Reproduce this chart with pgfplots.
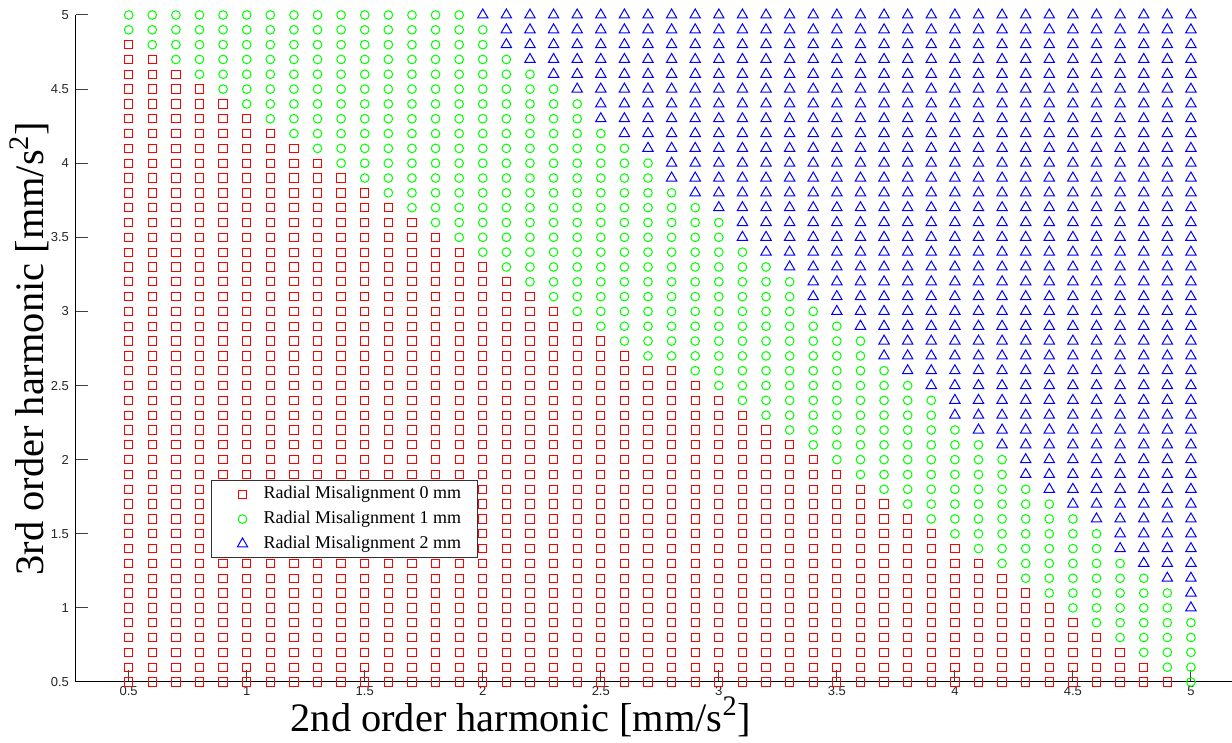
\documentclass[border=0pt]{standalone}
\usepackage{fontspec}
\setmainfont{Liberation Serif}
\newfontfamily\arialfont{Liberation Sans}
\usepackage{pgfplots}
\pgfplotsset{compat=1.18}
\begin{document}
\begin{tikzpicture}
\path[use as bounding box] (-38pt,-30.5pt) rectangle (578pt,341pt);
\begin{axis}[
  at={(0,0)}, anchor=south west,
  scale only axis, width=578pt, height=333.5pt,
  xmin=0.2768, xmax=5.174, ymin=0.5, ymax=5,
  axis x line*=bottom, axis y line*=left,
  axis line style={line width=0.5pt, black, -},
  xtick={0.5,1,1.5,2,2.5,3,3.5,4,4.5,5},
  ytick={0.5,1,1.5,2,2.5,3,3.5,4,4.5,5},
  tick align=inside, major tick length=6pt,
  tick style={line width=0.5pt, black!75},
  /pgf/number format/assume math mode=true,
  ticklabel style={font=\arialfont\fontsize{6.5}{7}\selectfont, text=black!85},
  xticklabel style={inner ysep=2pt},
  clip=false,
  every axis x label/.style={at={(axis description cs:0.3849,-0.0735)}, anchor=base, font=\fontsize{20.2}{22}\selectfont},
  every axis y label/.style={at={(axis description cs:-0.0277,0.5)}, anchor=base, rotate=90, font=\fontsize{20.2}{22}\selectfont},
  xlabel={2nd order harmonic [mm/s\textsuperscript{2}]},
  ylabel={3rd order harmonic [mm/s\textsuperscript{2}]},
  legend style={at={(axis description cs:0.1168,0.186)}, anchor=south west,
    draw=black!80, line width=0.5pt, fill=white,
    font=\fontsize{9}{11}\selectfont,
    inner xsep=6pt, inner ysep=0.5pt,
    nodes={inner ysep=2.35pt, inner xsep=2pt}},
  legend cell align=left,
  legend image code/.code={\path[draw=none,fill=none] (0pt,0pt) (18pt,0pt); \draw[#1] plot coordinates {(9.5pt,0pt)};},
]
\addplot[only marks, mark=square, mark size=2.07pt, color=red, line width=0.5pt] coordinates {
(0.5,4.8)
(0.5,4.7)(0.6,4.7)
(0.5,4.6)(0.6,4.6)(0.7,4.6)
(0.5,4.5)(0.6,4.5)(0.7,4.5)(0.8,4.5)
(0.5,4.4)(0.6,4.4)(0.7,4.4)(0.8,4.4)(0.9,4.4)
(0.5,4.3)(0.6,4.3)(0.7,4.3)(0.8,4.3)(0.9,4.3)(1,4.3)
(0.5,4.2)(0.6,4.2)(0.7,4.2)(0.8,4.2)(0.9,4.2)(1,4.2)(1.1,4.2)
(0.5,4.1)(0.6,4.1)(0.7,4.1)(0.8,4.1)(0.9,4.1)(1,4.1)(1.1,4.1)(1.2,4.1)
(0.5,4)(0.6,4)(0.7,4)(0.8,4)(0.9,4)(1,4)(1.1,4)(1.2,4)(1.3,4)
(0.5,3.9)(0.6,3.9)(0.7,3.9)(0.8,3.9)(0.9,3.9)(1,3.9)(1.1,3.9)(1.2,3.9)(1.3,3.9)(1.4,3.9)
(0.5,3.8)(0.6,3.8)(0.7,3.8)(0.8,3.8)(0.9,3.8)(1,3.8)(1.1,3.8)(1.2,3.8)(1.3,3.8)(1.4,3.8)(1.5,3.8)
(0.5,3.7)(0.6,3.7)(0.7,3.7)(0.8,3.7)(0.9,3.7)(1,3.7)(1.1,3.7)(1.2,3.7)(1.3,3.7)(1.4,3.7)(1.5,3.7)(1.6,3.7)
(0.5,3.6)(0.6,3.6)(0.7,3.6)(0.8,3.6)(0.9,3.6)(1,3.6)(1.1,3.6)(1.2,3.6)(1.3,3.6)(1.4,3.6)(1.5,3.6)(1.6,3.6)(1.7,3.6)
(0.5,3.5)(0.6,3.5)(0.7,3.5)(0.8,3.5)(0.9,3.5)(1,3.5)(1.1,3.5)(1.2,3.5)(1.3,3.5)(1.4,3.5)(1.5,3.5)(1.6,3.5)(1.7,3.5)(1.8,3.5)
(0.5,3.4)(0.6,3.4)(0.7,3.4)(0.8,3.4)(0.9,3.4)(1,3.4)(1.1,3.4)(1.2,3.4)(1.3,3.4)(1.4,3.4)(1.5,3.4)(1.6,3.4)(1.7,3.4)(1.8,3.4)(1.9,3.4)
(0.5,3.3)(0.6,3.3)(0.7,3.3)(0.8,3.3)(0.9,3.3)(1,3.3)(1.1,3.3)(1.2,3.3)(1.3,3.3)(1.4,3.3)(1.5,3.3)(1.6,3.3)(1.7,3.3)(1.8,3.3)(1.9,3.3)(2,3.3)
(0.5,3.2)(0.6,3.2)(0.7,3.2)(0.8,3.2)(0.9,3.2)(1,3.2)(1.1,3.2)(1.2,3.2)(1.3,3.2)(1.4,3.2)(1.5,3.2)(1.6,3.2)(1.7,3.2)(1.8,3.2)(1.9,3.2)(2,3.2)(2.1,3.2)
(0.5,3.1)(0.6,3.1)(0.7,3.1)(0.8,3.1)(0.9,3.1)(1,3.1)(1.1,3.1)(1.2,3.1)(1.3,3.1)(1.4,3.1)(1.5,3.1)(1.6,3.1)(1.7,3.1)(1.8,3.1)(1.9,3.1)(2,3.1)(2.1,3.1)(2.2,3.1)
(0.5,3)(0.6,3)(0.7,3)(0.8,3)(0.9,3)(1,3)(1.1,3)(1.2,3)(1.3,3)(1.4,3)(1.5,3)(1.6,3)(1.7,3)(1.8,3)(1.9,3)(2,3)(2.1,3)(2.2,3)(2.3,3)
(0.5,2.9)(0.6,2.9)(0.7,2.9)(0.8,2.9)(0.9,2.9)(1,2.9)(1.1,2.9)(1.2,2.9)(1.3,2.9)(1.4,2.9)(1.5,2.9)(1.6,2.9)(1.7,2.9)(1.8,2.9)(1.9,2.9)(2,2.9)(2.1,2.9)(2.2,2.9)(2.3,2.9)(2.4,2.9)
(0.5,2.8)(0.6,2.8)(0.7,2.8)(0.8,2.8)(0.9,2.8)(1,2.8)(1.1,2.8)(1.2,2.8)(1.3,2.8)(1.4,2.8)(1.5,2.8)(1.6,2.8)(1.7,2.8)(1.8,2.8)(1.9,2.8)(2,2.8)(2.1,2.8)(2.2,2.8)(2.3,2.8)(2.4,2.8)(2.5,2.8)
(0.5,2.7)(0.6,2.7)(0.7,2.7)(0.8,2.7)(0.9,2.7)(1,2.7)(1.1,2.7)(1.2,2.7)(1.3,2.7)(1.4,2.7)(1.5,2.7)(1.6,2.7)(1.7,2.7)(1.8,2.7)(1.9,2.7)(2,2.7)(2.1,2.7)(2.2,2.7)(2.3,2.7)(2.4,2.7)(2.5,2.7)(2.6,2.7)
(0.5,2.6)(0.6,2.6)(0.7,2.6)(0.8,2.6)(0.9,2.6)(1,2.6)(1.1,2.6)(1.2,2.6)(1.3,2.6)(1.4,2.6)(1.5,2.6)(1.6,2.6)(1.7,2.6)(1.8,2.6)(1.9,2.6)(2,2.6)(2.1,2.6)(2.2,2.6)(2.3,2.6)(2.4,2.6)(2.5,2.6)(2.6,2.6)(2.7,2.6)(2.8,2.6)
(0.5,2.5)(0.6,2.5)(0.7,2.5)(0.8,2.5)(0.9,2.5)(1,2.5)(1.1,2.5)(1.2,2.5)(1.3,2.5)(1.4,2.5)(1.5,2.5)(1.6,2.5)(1.7,2.5)(1.8,2.5)(1.9,2.5)(2,2.5)(2.1,2.5)(2.2,2.5)(2.3,2.5)(2.4,2.5)(2.5,2.5)(2.6,2.5)(2.7,2.5)(2.8,2.5)(2.9,2.5)
(0.5,2.4)(0.6,2.4)(0.7,2.4)(0.8,2.4)(0.9,2.4)(1,2.4)(1.1,2.4)(1.2,2.4)(1.3,2.4)(1.4,2.4)(1.5,2.4)(1.6,2.4)(1.7,2.4)(1.8,2.4)(1.9,2.4)(2,2.4)(2.1,2.4)(2.2,2.4)(2.3,2.4)(2.4,2.4)(2.5,2.4)(2.6,2.4)(2.7,2.4)(2.8,2.4)(2.9,2.4)(3,2.4)
(0.5,2.3)(0.6,2.3)(0.7,2.3)(0.8,2.3)(0.9,2.3)(1,2.3)(1.1,2.3)(1.2,2.3)(1.3,2.3)(1.4,2.3)(1.5,2.3)(1.6,2.3)(1.7,2.3)(1.8,2.3)(1.9,2.3)(2,2.3)(2.1,2.3)(2.2,2.3)(2.3,2.3)(2.4,2.3)(2.5,2.3)(2.6,2.3)(2.7,2.3)(2.8,2.3)(2.9,2.3)(3,2.3)(3.1,2.3)
(0.5,2.2)(0.6,2.2)(0.7,2.2)(0.8,2.2)(0.9,2.2)(1,2.2)(1.1,2.2)(1.2,2.2)(1.3,2.2)(1.4,2.2)(1.5,2.2)(1.6,2.2)(1.7,2.2)(1.8,2.2)(1.9,2.2)(2,2.2)(2.1,2.2)(2.2,2.2)(2.3,2.2)(2.4,2.2)(2.5,2.2)(2.6,2.2)(2.7,2.2)(2.8,2.2)(2.9,2.2)(3,2.2)(3.1,2.2)(3.2,2.2)
(0.5,2.1)(0.6,2.1)(0.7,2.1)(0.8,2.1)(0.9,2.1)(1,2.1)(1.1,2.1)(1.2,2.1)(1.3,2.1)(1.4,2.1)(1.5,2.1)(1.6,2.1)(1.7,2.1)(1.8,2.1)(1.9,2.1)(2,2.1)(2.1,2.1)(2.2,2.1)(2.3,2.1)(2.4,2.1)(2.5,2.1)(2.6,2.1)(2.7,2.1)(2.8,2.1)(2.9,2.1)(3,2.1)(3.1,2.1)(3.2,2.1)(3.3,2.1)
(0.5,2)(0.6,2)(0.7,2)(0.8,2)(0.9,2)(1,2)(1.1,2)(1.2,2)(1.3,2)(1.4,2)(1.5,2)(1.6,2)(1.7,2)(1.8,2)(1.9,2)(2,2)(2.1,2)(2.2,2)(2.3,2)(2.4,2)(2.5,2)(2.6,2)(2.7,2)(2.8,2)(2.9,2)(3,2)(3.1,2)(3.2,2)(3.3,2)(3.4,2)
(0.5,1.9)(0.6,1.9)(0.7,1.9)(0.8,1.9)(0.9,1.9)(1,1.9)(1.1,1.9)(1.2,1.9)(1.3,1.9)(1.4,1.9)(1.5,1.9)(1.6,1.9)(1.7,1.9)(1.8,1.9)(1.9,1.9)(2,1.9)(2.1,1.9)(2.2,1.9)(2.3,1.9)(2.4,1.9)(2.5,1.9)(2.6,1.9)(2.7,1.9)(2.8,1.9)(2.9,1.9)(3,1.9)(3.1,1.9)(3.2,1.9)(3.3,1.9)(3.4,1.9)(3.5,1.9)
(0.5,1.8)(0.6,1.8)(0.7,1.8)(0.8,1.8)(0.9,1.8)(1,1.8)(1.1,1.8)(1.2,1.8)(1.3,1.8)(1.4,1.8)(1.5,1.8)(1.6,1.8)(1.7,1.8)(1.8,1.8)(1.9,1.8)(2,1.8)(2.1,1.8)(2.2,1.8)(2.3,1.8)(2.4,1.8)(2.5,1.8)(2.6,1.8)(2.7,1.8)(2.8,1.8)(2.9,1.8)(3,1.8)(3.1,1.8)(3.2,1.8)(3.3,1.8)(3.4,1.8)(3.5,1.8)(3.6,1.8)
(0.5,1.7)(0.6,1.7)(0.7,1.7)(0.8,1.7)(0.9,1.7)(1,1.7)(1.1,1.7)(1.2,1.7)(1.3,1.7)(1.4,1.7)(1.5,1.7)(1.6,1.7)(1.7,1.7)(1.8,1.7)(1.9,1.7)(2,1.7)(2.1,1.7)(2.2,1.7)(2.3,1.7)(2.4,1.7)(2.5,1.7)(2.6,1.7)(2.7,1.7)(2.8,1.7)(2.9,1.7)(3,1.7)(3.1,1.7)(3.2,1.7)(3.3,1.7)(3.4,1.7)(3.5,1.7)(3.6,1.7)(3.7,1.7)
(0.5,1.6)(0.6,1.6)(0.7,1.6)(0.8,1.6)(0.9,1.6)(1,1.6)(1.1,1.6)(1.2,1.6)(1.3,1.6)(1.4,1.6)(1.5,1.6)(1.6,1.6)(1.7,1.6)(1.8,1.6)(1.9,1.6)(2,1.6)(2.1,1.6)(2.2,1.6)(2.3,1.6)(2.4,1.6)(2.5,1.6)(2.6,1.6)(2.7,1.6)(2.8,1.6)(2.9,1.6)(3,1.6)(3.1,1.6)(3.2,1.6)(3.3,1.6)(3.4,1.6)(3.5,1.6)(3.6,1.6)(3.7,1.6)(3.8,1.6)
(0.5,1.5)(0.6,1.5)(0.7,1.5)(0.8,1.5)(0.9,1.5)(1,1.5)(1.1,1.5)(1.2,1.5)(1.3,1.5)(1.4,1.5)(1.5,1.5)(1.6,1.5)(1.7,1.5)(1.8,1.5)(1.9,1.5)(2,1.5)(2.1,1.5)(2.2,1.5)(2.3,1.5)(2.4,1.5)(2.5,1.5)(2.6,1.5)(2.7,1.5)(2.8,1.5)(2.9,1.5)(3,1.5)(3.1,1.5)(3.2,1.5)(3.3,1.5)(3.4,1.5)(3.5,1.5)(3.6,1.5)(3.7,1.5)(3.8,1.5)(3.9,1.5)
(0.5,1.4)(0.6,1.4)(0.7,1.4)(0.8,1.4)(0.9,1.4)(1,1.4)(1.1,1.4)(1.2,1.4)(1.3,1.4)(1.4,1.4)(1.5,1.4)(1.6,1.4)(1.7,1.4)(1.8,1.4)(1.9,1.4)(2,1.4)(2.1,1.4)(2.2,1.4)(2.3,1.4)(2.4,1.4)(2.5,1.4)(2.6,1.4)(2.7,1.4)(2.8,1.4)(2.9,1.4)(3,1.4)(3.1,1.4)(3.2,1.4)(3.3,1.4)(3.4,1.4)(3.5,1.4)(3.6,1.4)(3.7,1.4)(3.8,1.4)(3.9,1.4)(4,1.4)
(0.5,1.3)(0.6,1.3)(0.7,1.3)(0.8,1.3)(0.9,1.3)(1,1.3)(1.1,1.3)(1.2,1.3)(1.3,1.3)(1.4,1.3)(1.5,1.3)(1.6,1.3)(1.7,1.3)(1.8,1.3)(1.9,1.3)(2,1.3)(2.1,1.3)(2.2,1.3)(2.3,1.3)(2.4,1.3)(2.5,1.3)(2.6,1.3)(2.7,1.3)(2.8,1.3)(2.9,1.3)(3,1.3)(3.1,1.3)(3.2,1.3)(3.3,1.3)(3.4,1.3)(3.5,1.3)(3.6,1.3)(3.7,1.3)(3.8,1.3)(3.9,1.3)(4,1.3)(4.1,1.3)
(0.5,1.2)(0.6,1.2)(0.7,1.2)(0.8,1.2)(0.9,1.2)(1,1.2)(1.1,1.2)(1.2,1.2)(1.3,1.2)(1.4,1.2)(1.5,1.2)(1.6,1.2)(1.7,1.2)(1.8,1.2)(1.9,1.2)(2,1.2)(2.1,1.2)(2.2,1.2)(2.3,1.2)(2.4,1.2)(2.5,1.2)(2.6,1.2)(2.7,1.2)(2.8,1.2)(2.9,1.2)(3,1.2)(3.1,1.2)(3.2,1.2)(3.3,1.2)(3.4,1.2)(3.5,1.2)(3.6,1.2)(3.7,1.2)(3.8,1.2)(3.9,1.2)(4,1.2)(4.1,1.2)(4.2,1.2)
(0.5,1.1)(0.6,1.1)(0.7,1.1)(0.8,1.1)(0.9,1.1)(1,1.1)(1.1,1.1)(1.2,1.1)(1.3,1.1)(1.4,1.1)(1.5,1.1)(1.6,1.1)(1.7,1.1)(1.8,1.1)(1.9,1.1)(2,1.1)(2.1,1.1)(2.2,1.1)(2.3,1.1)(2.4,1.1)(2.5,1.1)(2.6,1.1)(2.7,1.1)(2.8,1.1)(2.9,1.1)(3,1.1)(3.1,1.1)(3.2,1.1)(3.3,1.1)(3.4,1.1)(3.5,1.1)(3.6,1.1)(3.7,1.1)(3.8,1.1)(3.9,1.1)(4,1.1)(4.1,1.1)(4.2,1.1)(4.3,1.1)
(0.5,1)(0.6,1)(0.7,1)(0.8,1)(0.9,1)(1,1)(1.1,1)(1.2,1)(1.3,1)(1.4,1)(1.5,1)(1.6,1)(1.7,1)(1.8,1)(1.9,1)(2,1)(2.1,1)(2.2,1)(2.3,1)(2.4,1)(2.5,1)(2.6,1)(2.7,1)(2.8,1)(2.9,1)(3,1)(3.1,1)(3.2,1)(3.3,1)(3.4,1)(3.5,1)(3.6,1)(3.7,1)(3.8,1)(3.9,1)(4,1)(4.1,1)(4.2,1)(4.3,1)(4.4,1)
(0.5,0.9)(0.6,0.9)(0.7,0.9)(0.8,0.9)(0.9,0.9)(1,0.9)(1.1,0.9)(1.2,0.9)(1.3,0.9)(1.4,0.9)(1.5,0.9)(1.6,0.9)(1.7,0.9)(1.8,0.9)(1.9,0.9)(2,0.9)(2.1,0.9)(2.2,0.9)(2.3,0.9)(2.4,0.9)(2.5,0.9)(2.6,0.9)(2.7,0.9)(2.8,0.9)(2.9,0.9)(3,0.9)(3.1,0.9)(3.2,0.9)(3.3,0.9)(3.4,0.9)(3.5,0.9)(3.6,0.9)(3.7,0.9)(3.8,0.9)(3.9,0.9)(4,0.9)(4.1,0.9)(4.2,0.9)(4.3,0.9)(4.4,0.9)(4.5,0.9)
(0.5,0.8)(0.6,0.8)(0.7,0.8)(0.8,0.8)(0.9,0.8)(1,0.8)(1.1,0.8)(1.2,0.8)(1.3,0.8)(1.4,0.8)(1.5,0.8)(1.6,0.8)(1.7,0.8)(1.8,0.8)(1.9,0.8)(2,0.8)(2.1,0.8)(2.2,0.8)(2.3,0.8)(2.4,0.8)(2.5,0.8)(2.6,0.8)(2.7,0.8)(2.8,0.8)(2.9,0.8)(3,0.8)(3.1,0.8)(3.2,0.8)(3.3,0.8)(3.4,0.8)(3.5,0.8)(3.6,0.8)(3.7,0.8)(3.8,0.8)(3.9,0.8)(4,0.8)(4.1,0.8)(4.2,0.8)(4.3,0.8)(4.4,0.8)(4.5,0.8)(4.6,0.8)
(0.5,0.7)(0.6,0.7)(0.7,0.7)(0.8,0.7)(0.9,0.7)(1,0.7)(1.1,0.7)(1.2,0.7)(1.3,0.7)(1.4,0.7)(1.5,0.7)(1.6,0.7)(1.7,0.7)(1.8,0.7)(1.9,0.7)(2,0.7)(2.1,0.7)(2.2,0.7)(2.3,0.7)(2.4,0.7)(2.5,0.7)(2.6,0.7)(2.7,0.7)(2.8,0.7)(2.9,0.7)(3,0.7)(3.1,0.7)(3.2,0.7)(3.3,0.7)(3.4,0.7)(3.5,0.7)(3.6,0.7)(3.7,0.7)(3.8,0.7)(3.9,0.7)(4,0.7)(4.1,0.7)(4.2,0.7)(4.3,0.7)(4.4,0.7)(4.5,0.7)(4.6,0.7)(4.7,0.7)
(0.5,0.6)(0.6,0.6)(0.7,0.6)(0.8,0.6)(0.9,0.6)(1,0.6)(1.1,0.6)(1.2,0.6)(1.3,0.6)(1.4,0.6)(1.5,0.6)(1.6,0.6)(1.7,0.6)(1.8,0.6)(1.9,0.6)(2,0.6)(2.1,0.6)(2.2,0.6)(2.3,0.6)(2.4,0.6)(2.5,0.6)(2.6,0.6)(2.7,0.6)(2.8,0.6)(2.9,0.6)(3,0.6)(3.1,0.6)(3.2,0.6)(3.3,0.6)(3.4,0.6)(3.5,0.6)(3.6,0.6)(3.7,0.6)(3.8,0.6)(3.9,0.6)(4,0.6)(4.1,0.6)(4.2,0.6)(4.3,0.6)(4.4,0.6)(4.5,0.6)(4.6,0.6)(4.7,0.6)(4.8,0.6)
(0.5,0.5)(0.6,0.5)(0.7,0.5)(0.8,0.5)(0.9,0.5)(1,0.5)(1.1,0.5)(1.2,0.5)(1.3,0.5)(1.4,0.5)(1.5,0.5)(1.6,0.5)(1.7,0.5)(1.8,0.5)(1.9,0.5)(2,0.5)(2.1,0.5)(2.2,0.5)(2.3,0.5)(2.4,0.5)(2.5,0.5)(2.6,0.5)(2.7,0.5)(2.8,0.5)(2.9,0.5)(3,0.5)(3.1,0.5)(3.2,0.5)(3.3,0.5)(3.4,0.5)(3.5,0.5)(3.6,0.5)(3.7,0.5)(3.8,0.5)(3.9,0.5)(4,0.5)(4.1,0.5)(4.2,0.5)(4.3,0.5)(4.4,0.5)(4.5,0.5)(4.6,0.5)(4.7,0.5)(4.8,0.5)(4.9,0.5)
};
\addlegendentry{Radial Misalignment 0 mm}
\addplot[only marks, mark=o, mark size=2.17pt, color=green, line width=0.5pt] coordinates {
(0.5,5)(0.6,5)(0.7,5)(0.8,5)(0.9,5)(1,5)(1.1,5)(1.2,5)(1.3,5)(1.4,5)(1.5,5)(1.6,5)(1.7,5)(1.8,5)(1.9,5)
(0.5,4.9)(0.6,4.9)(0.7,4.9)(0.8,4.9)(0.9,4.9)(1,4.9)(1.1,4.9)(1.2,4.9)(1.3,4.9)(1.4,4.9)(1.5,4.9)(1.6,4.9)(1.7,4.9)(1.8,4.9)(1.9,4.9)(2,4.9)
(0.6,4.8)(0.7,4.8)(0.8,4.8)(0.9,4.8)(1,4.8)(1.1,4.8)(1.2,4.8)(1.3,4.8)(1.4,4.8)(1.5,4.8)(1.6,4.8)(1.7,4.8)(1.8,4.8)(1.9,4.8)(2,4.8)
(0.7,4.7)(0.8,4.7)(0.9,4.7)(1,4.7)(1.1,4.7)(1.2,4.7)(1.3,4.7)(1.4,4.7)(1.5,4.7)(1.6,4.7)(1.7,4.7)(1.8,4.7)(1.9,4.7)(2,4.7)(2.1,4.7)
(0.8,4.6)(0.9,4.6)(1,4.6)(1.1,4.6)(1.2,4.6)(1.3,4.6)(1.4,4.6)(1.5,4.6)(1.6,4.6)(1.7,4.6)(1.8,4.6)(1.9,4.6)(2,4.6)(2.1,4.6)(2.2,4.6)
(0.9,4.5)(1,4.5)(1.1,4.5)(1.2,4.5)(1.3,4.5)(1.4,4.5)(1.5,4.5)(1.6,4.5)(1.7,4.5)(1.8,4.5)(1.9,4.5)(2,4.5)(2.1,4.5)(2.2,4.5)(2.3,4.5)
(1,4.4)(1.1,4.4)(1.2,4.4)(1.3,4.4)(1.4,4.4)(1.5,4.4)(1.6,4.4)(1.7,4.4)(1.8,4.4)(1.9,4.4)(2,4.4)(2.1,4.4)(2.2,4.4)(2.3,4.4)(2.4,4.4)
(1.1,4.3)(1.2,4.3)(1.3,4.3)(1.4,4.3)(1.5,4.3)(1.6,4.3)(1.7,4.3)(1.8,4.3)(1.9,4.3)(2,4.3)(2.1,4.3)(2.2,4.3)(2.3,4.3)(2.4,4.3)
(1.2,4.2)(1.3,4.2)(1.4,4.2)(1.5,4.2)(1.6,4.2)(1.7,4.2)(1.8,4.2)(1.9,4.2)(2,4.2)(2.1,4.2)(2.2,4.2)(2.3,4.2)(2.4,4.2)(2.5,4.2)
(1.3,4.1)(1.4,4.1)(1.5,4.1)(1.6,4.1)(1.7,4.1)(1.8,4.1)(1.9,4.1)(2,4.1)(2.1,4.1)(2.2,4.1)(2.3,4.1)(2.4,4.1)(2.5,4.1)(2.6,4.1)
(1.4,4)(1.5,4)(1.6,4)(1.7,4)(1.8,4)(1.9,4)(2,4)(2.1,4)(2.2,4)(2.3,4)(2.4,4)(2.5,4)(2.6,4)(2.7,4)
(1.5,3.9)(1.6,3.9)(1.7,3.9)(1.8,3.9)(1.9,3.9)(2,3.9)(2.1,3.9)(2.2,3.9)(2.3,3.9)(2.4,3.9)(2.5,3.9)(2.6,3.9)(2.7,3.9)
(1.6,3.8)(1.7,3.8)(1.8,3.8)(1.9,3.8)(2,3.8)(2.1,3.8)(2.2,3.8)(2.3,3.8)(2.4,3.8)(2.5,3.8)(2.6,3.8)(2.7,3.8)(2.8,3.8)
(1.7,3.7)(1.8,3.7)(1.9,3.7)(2,3.7)(2.1,3.7)(2.2,3.7)(2.3,3.7)(2.4,3.7)(2.5,3.7)(2.6,3.7)(2.7,3.7)(2.8,3.7)(2.9,3.7)
(1.8,3.6)(1.9,3.6)(2,3.6)(2.1,3.6)(2.2,3.6)(2.3,3.6)(2.4,3.6)(2.5,3.6)(2.6,3.6)(2.7,3.6)(2.8,3.6)(2.9,3.6)(3,3.6)
(1.9,3.5)(2,3.5)(2.1,3.5)(2.2,3.5)(2.3,3.5)(2.4,3.5)(2.5,3.5)(2.6,3.5)(2.7,3.5)(2.8,3.5)(2.9,3.5)(3,3.5)
(2,3.4)(2.1,3.4)(2.2,3.4)(2.3,3.4)(2.4,3.4)(2.5,3.4)(2.6,3.4)(2.7,3.4)(2.8,3.4)(2.9,3.4)(3,3.4)(3.1,3.4)
(2.1,3.3)(2.2,3.3)(2.3,3.3)(2.4,3.3)(2.5,3.3)(2.6,3.3)(2.7,3.3)(2.8,3.3)(2.9,3.3)(3,3.3)(3.1,3.3)(3.2,3.3)
(2.2,3.2)(2.3,3.2)(2.4,3.2)(2.5,3.2)(2.6,3.2)(2.7,3.2)(2.8,3.2)(2.9,3.2)(3,3.2)(3.1,3.2)(3.2,3.2)(3.3,3.2)
(2.3,3.1)(2.4,3.1)(2.5,3.1)(2.6,3.1)(2.7,3.1)(2.8,3.1)(2.9,3.1)(3,3.1)(3.1,3.1)(3.2,3.1)(3.3,3.1)
(2.4,3)(2.5,3)(2.6,3)(2.7,3)(2.8,3)(2.9,3)(3,3)(3.1,3)(3.2,3)(3.3,3)(3.4,3)
(2.5,2.9)(2.6,2.9)(2.7,2.9)(2.8,2.9)(2.9,2.9)(3,2.9)(3.1,2.9)(3.2,2.9)(3.3,2.9)(3.4,2.9)(3.5,2.9)
(2.6,2.8)(2.7,2.8)(2.8,2.8)(2.9,2.8)(3,2.8)(3.1,2.8)(3.2,2.8)(3.3,2.8)(3.4,2.8)(3.5,2.8)(3.6,2.8)
(2.7,2.7)(2.8,2.7)(2.9,2.7)(3,2.7)(3.1,2.7)(3.2,2.7)(3.3,2.7)(3.4,2.7)(3.5,2.7)(3.6,2.7)
(2.9,2.6)(3,2.6)(3.1,2.6)(3.2,2.6)(3.3,2.6)(3.4,2.6)(3.5,2.6)(3.6,2.6)(3.7,2.6)
(3,2.5)(3.1,2.5)(3.2,2.5)(3.3,2.5)(3.4,2.5)(3.5,2.5)(3.6,2.5)(3.7,2.5)(3.8,2.5)
(3.1,2.4)(3.2,2.4)(3.3,2.4)(3.4,2.4)(3.5,2.4)(3.6,2.4)(3.7,2.4)(3.8,2.4)(3.9,2.4)
(3.2,2.3)(3.3,2.3)(3.4,2.3)(3.5,2.3)(3.6,2.3)(3.7,2.3)(3.8,2.3)(3.9,2.3)
(3.3,2.2)(3.4,2.2)(3.5,2.2)(3.6,2.2)(3.7,2.2)(3.8,2.2)(3.9,2.2)(4,2.2)
(3.4,2.1)(3.5,2.1)(3.6,2.1)(3.7,2.1)(3.8,2.1)(3.9,2.1)(4,2.1)(4.1,2.1)
(3.5,2)(3.6,2)(3.7,2)(3.8,2)(3.9,2)(4,2)(4.1,2)(4.2,2)
(3.6,1.9)(3.7,1.9)(3.8,1.9)(3.9,1.9)(4,1.9)(4.1,1.9)(4.2,1.9)
(3.7,1.8)(3.8,1.8)(3.9,1.8)(4,1.8)(4.1,1.8)(4.2,1.8)(4.3,1.8)
(3.8,1.7)(3.9,1.7)(4,1.7)(4.1,1.7)(4.2,1.7)(4.3,1.7)(4.4,1.7)
(3.9,1.6)(4,1.6)(4.1,1.6)(4.2,1.6)(4.3,1.6)(4.4,1.6)(4.5,1.6)
(4,1.5)(4.1,1.5)(4.2,1.5)(4.3,1.5)(4.4,1.5)(4.5,1.5)(4.6,1.5)
(4.1,1.4)(4.2,1.4)(4.3,1.4)(4.4,1.4)(4.5,1.4)(4.6,1.4)
(4.2,1.3)(4.3,1.3)(4.4,1.3)(4.5,1.3)(4.6,1.3)(4.7,1.3)
(4.3,1.2)(4.4,1.2)(4.5,1.2)(4.6,1.2)(4.7,1.2)(4.8,1.2)
(4.4,1.1)(4.5,1.1)(4.6,1.1)(4.7,1.1)(4.8,1.1)(4.9,1.1)
(4.5,1)(4.6,1)(4.7,1)(4.8,1)(4.9,1)
(4.6,0.9)(4.7,0.9)(4.8,0.9)(4.9,0.9)(5,0.9)
(4.7,0.8)(4.8,0.8)(4.9,0.8)(5,0.8)
(4.8,0.7)(4.9,0.7)(5,0.7)
(4.9,0.6)(5,0.6)
(5,0.5)
};
\addlegendentry{Radial Misalignment 1 mm}
\addplot[only marks, mark=triangle, mark size=3pt, color=blue, line width=0.5pt] coordinates {
(2,5)(2.1,5)(2.2,5)(2.3,5)(2.4,5)(2.5,5)(2.6,5)(2.7,5)(2.8,5)(2.9,5)(3,5)(3.1,5)(3.2,5)(3.3,5)(3.4,5)(3.5,5)(3.6,5)(3.7,5)(3.8,5)(3.9,5)(4,5)(4.1,5)(4.2,5)(4.3,5)(4.4,5)(4.5,5)(4.6,5)(4.7,5)(4.8,5)(4.9,5)(5,5)
(2.1,4.9)(2.2,4.9)(2.3,4.9)(2.4,4.9)(2.5,4.9)(2.6,4.9)(2.7,4.9)(2.8,4.9)(2.9,4.9)(3,4.9)(3.1,4.9)(3.2,4.9)(3.3,4.9)(3.4,4.9)(3.5,4.9)(3.6,4.9)(3.7,4.9)(3.8,4.9)(3.9,4.9)(4,4.9)(4.1,4.9)(4.2,4.9)(4.3,4.9)(4.4,4.9)(4.5,4.9)(4.6,4.9)(4.7,4.9)(4.8,4.9)(4.9,4.9)(5,4.9)
(2.1,4.8)(2.2,4.8)(2.3,4.8)(2.4,4.8)(2.5,4.8)(2.6,4.8)(2.7,4.8)(2.8,4.8)(2.9,4.8)(3,4.8)(3.1,4.8)(3.2,4.8)(3.3,4.8)(3.4,4.8)(3.5,4.8)(3.6,4.8)(3.7,4.8)(3.8,4.8)(3.9,4.8)(4,4.8)(4.1,4.8)(4.2,4.8)(4.3,4.8)(4.4,4.8)(4.5,4.8)(4.6,4.8)(4.7,4.8)(4.8,4.8)(4.9,4.8)(5,4.8)
(2.2,4.7)(2.3,4.7)(2.4,4.7)(2.5,4.7)(2.6,4.7)(2.7,4.7)(2.8,4.7)(2.9,4.7)(3,4.7)(3.1,4.7)(3.2,4.7)(3.3,4.7)(3.4,4.7)(3.5,4.7)(3.6,4.7)(3.7,4.7)(3.8,4.7)(3.9,4.7)(4,4.7)(4.1,4.7)(4.2,4.7)(4.3,4.7)(4.4,4.7)(4.5,4.7)(4.6,4.7)(4.7,4.7)(4.8,4.7)(4.9,4.7)(5,4.7)
(2.3,4.6)(2.4,4.6)(2.5,4.6)(2.6,4.6)(2.7,4.6)(2.8,4.6)(2.9,4.6)(3,4.6)(3.1,4.6)(3.2,4.6)(3.3,4.6)(3.4,4.6)(3.5,4.6)(3.6,4.6)(3.7,4.6)(3.8,4.6)(3.9,4.6)(4,4.6)(4.1,4.6)(4.2,4.6)(4.3,4.6)(4.4,4.6)(4.5,4.6)(4.6,4.6)(4.7,4.6)(4.8,4.6)(4.9,4.6)(5,4.6)
(2.4,4.5)(2.5,4.5)(2.6,4.5)(2.7,4.5)(2.8,4.5)(2.9,4.5)(3,4.5)(3.1,4.5)(3.2,4.5)(3.3,4.5)(3.4,4.5)(3.5,4.5)(3.6,4.5)(3.7,4.5)(3.8,4.5)(3.9,4.5)(4,4.5)(4.1,4.5)(4.2,4.5)(4.3,4.5)(4.4,4.5)(4.5,4.5)(4.6,4.5)(4.7,4.5)(4.8,4.5)(4.9,4.5)(5,4.5)
(2.5,4.4)(2.6,4.4)(2.7,4.4)(2.8,4.4)(2.9,4.4)(3,4.4)(3.1,4.4)(3.2,4.4)(3.3,4.4)(3.4,4.4)(3.5,4.4)(3.6,4.4)(3.7,4.4)(3.8,4.4)(3.9,4.4)(4,4.4)(4.1,4.4)(4.2,4.4)(4.3,4.4)(4.4,4.4)(4.5,4.4)(4.6,4.4)(4.7,4.4)(4.8,4.4)(4.9,4.4)(5,4.4)
(2.5,4.3)(2.6,4.3)(2.7,4.3)(2.8,4.3)(2.9,4.3)(3,4.3)(3.1,4.3)(3.2,4.3)(3.3,4.3)(3.4,4.3)(3.5,4.3)(3.6,4.3)(3.7,4.3)(3.8,4.3)(3.9,4.3)(4,4.3)(4.1,4.3)(4.2,4.3)(4.3,4.3)(4.4,4.3)(4.5,4.3)(4.6,4.3)(4.7,4.3)(4.8,4.3)(4.9,4.3)(5,4.3)
(2.6,4.2)(2.7,4.2)(2.8,4.2)(2.9,4.2)(3,4.2)(3.1,4.2)(3.2,4.2)(3.3,4.2)(3.4,4.2)(3.5,4.2)(3.6,4.2)(3.7,4.2)(3.8,4.2)(3.9,4.2)(4,4.2)(4.1,4.2)(4.2,4.2)(4.3,4.2)(4.4,4.2)(4.5,4.2)(4.6,4.2)(4.7,4.2)(4.8,4.2)(4.9,4.2)(5,4.2)
(2.7,4.1)(2.8,4.1)(2.9,4.1)(3,4.1)(3.1,4.1)(3.2,4.1)(3.3,4.1)(3.4,4.1)(3.5,4.1)(3.6,4.1)(3.7,4.1)(3.8,4.1)(3.9,4.1)(4,4.1)(4.1,4.1)(4.2,4.1)(4.3,4.1)(4.4,4.1)(4.5,4.1)(4.6,4.1)(4.7,4.1)(4.8,4.1)(4.9,4.1)(5,4.1)
(2.8,4)(2.9,4)(3,4)(3.1,4)(3.2,4)(3.3,4)(3.4,4)(3.5,4)(3.6,4)(3.7,4)(3.8,4)(3.9,4)(4,4)(4.1,4)(4.2,4)(4.3,4)(4.4,4)(4.5,4)(4.6,4)(4.7,4)(4.8,4)(4.9,4)(5,4)
(2.8,3.9)(2.9,3.9)(3,3.9)(3.1,3.9)(3.2,3.9)(3.3,3.9)(3.4,3.9)(3.5,3.9)(3.6,3.9)(3.7,3.9)(3.8,3.9)(3.9,3.9)(4,3.9)(4.1,3.9)(4.2,3.9)(4.3,3.9)(4.4,3.9)(4.5,3.9)(4.6,3.9)(4.7,3.9)(4.8,3.9)(4.9,3.9)(5,3.9)
(2.9,3.8)(3,3.8)(3.1,3.8)(3.2,3.8)(3.3,3.8)(3.4,3.8)(3.5,3.8)(3.6,3.8)(3.7,3.8)(3.8,3.8)(3.9,3.8)(4,3.8)(4.1,3.8)(4.2,3.8)(4.3,3.8)(4.4,3.8)(4.5,3.8)(4.6,3.8)(4.7,3.8)(4.8,3.8)(4.9,3.8)(5,3.8)
(3,3.7)(3.1,3.7)(3.2,3.7)(3.3,3.7)(3.4,3.7)(3.5,3.7)(3.6,3.7)(3.7,3.7)(3.8,3.7)(3.9,3.7)(4,3.7)(4.1,3.7)(4.2,3.7)(4.3,3.7)(4.4,3.7)(4.5,3.7)(4.6,3.7)(4.7,3.7)(4.8,3.7)(4.9,3.7)(5,3.7)
(3.1,3.6)(3.2,3.6)(3.3,3.6)(3.4,3.6)(3.5,3.6)(3.6,3.6)(3.7,3.6)(3.8,3.6)(3.9,3.6)(4,3.6)(4.1,3.6)(4.2,3.6)(4.3,3.6)(4.4,3.6)(4.5,3.6)(4.6,3.6)(4.7,3.6)(4.8,3.6)(4.9,3.6)(5,3.6)
(3.1,3.5)(3.2,3.5)(3.3,3.5)(3.4,3.5)(3.5,3.5)(3.6,3.5)(3.7,3.5)(3.8,3.5)(3.9,3.5)(4,3.5)(4.1,3.5)(4.2,3.5)(4.3,3.5)(4.4,3.5)(4.5,3.5)(4.6,3.5)(4.7,3.5)(4.8,3.5)(4.9,3.5)(5,3.5)
(3.2,3.4)(3.3,3.4)(3.4,3.4)(3.5,3.4)(3.6,3.4)(3.7,3.4)(3.8,3.4)(3.9,3.4)(4,3.4)(4.1,3.4)(4.2,3.4)(4.3,3.4)(4.4,3.4)(4.5,3.4)(4.6,3.4)(4.7,3.4)(4.8,3.4)(4.9,3.4)(5,3.4)
(3.3,3.3)(3.4,3.3)(3.5,3.3)(3.6,3.3)(3.7,3.3)(3.8,3.3)(3.9,3.3)(4,3.3)(4.1,3.3)(4.2,3.3)(4.3,3.3)(4.4,3.3)(4.5,3.3)(4.6,3.3)(4.7,3.3)(4.8,3.3)(4.9,3.3)(5,3.3)
(3.4,3.2)(3.5,3.2)(3.6,3.2)(3.7,3.2)(3.8,3.2)(3.9,3.2)(4,3.2)(4.1,3.2)(4.2,3.2)(4.3,3.2)(4.4,3.2)(4.5,3.2)(4.6,3.2)(4.7,3.2)(4.8,3.2)(4.9,3.2)(5,3.2)
(3.4,3.1)(3.5,3.1)(3.6,3.1)(3.7,3.1)(3.8,3.1)(3.9,3.1)(4,3.1)(4.1,3.1)(4.2,3.1)(4.3,3.1)(4.4,3.1)(4.5,3.1)(4.6,3.1)(4.7,3.1)(4.8,3.1)(4.9,3.1)(5,3.1)
(3.5,3)(3.6,3)(3.7,3)(3.8,3)(3.9,3)(4,3)(4.1,3)(4.2,3)(4.3,3)(4.4,3)(4.5,3)(4.6,3)(4.7,3)(4.8,3)(4.9,3)(5,3)
(3.6,2.9)(3.7,2.9)(3.8,2.9)(3.9,2.9)(4,2.9)(4.1,2.9)(4.2,2.9)(4.3,2.9)(4.4,2.9)(4.5,2.9)(4.6,2.9)(4.7,2.9)(4.8,2.9)(4.9,2.9)(5,2.9)
(3.7,2.8)(3.8,2.8)(3.9,2.8)(4,2.8)(4.1,2.8)(4.2,2.8)(4.3,2.8)(4.4,2.8)(4.5,2.8)(4.6,2.8)(4.7,2.8)(4.8,2.8)(4.9,2.8)(5,2.8)
(3.7,2.7)(3.8,2.7)(3.9,2.7)(4,2.7)(4.1,2.7)(4.2,2.7)(4.3,2.7)(4.4,2.7)(4.5,2.7)(4.6,2.7)(4.7,2.7)(4.8,2.7)(4.9,2.7)(5,2.7)
(3.8,2.6)(3.9,2.6)(4,2.6)(4.1,2.6)(4.2,2.6)(4.3,2.6)(4.4,2.6)(4.5,2.6)(4.6,2.6)(4.7,2.6)(4.8,2.6)(4.9,2.6)(5,2.6)
(3.9,2.5)(4,2.5)(4.1,2.5)(4.2,2.5)(4.3,2.5)(4.4,2.5)(4.5,2.5)(4.6,2.5)(4.7,2.5)(4.8,2.5)(4.9,2.5)(5,2.5)
(4,2.4)(4.1,2.4)(4.2,2.4)(4.3,2.4)(4.4,2.4)(4.5,2.4)(4.6,2.4)(4.7,2.4)(4.8,2.4)(4.9,2.4)(5,2.4)
(4,2.3)(4.1,2.3)(4.2,2.3)(4.3,2.3)(4.4,2.3)(4.5,2.3)(4.6,2.3)(4.7,2.3)(4.8,2.3)(4.9,2.3)(5,2.3)
(4.1,2.2)(4.2,2.2)(4.3,2.2)(4.4,2.2)(4.5,2.2)(4.6,2.2)(4.7,2.2)(4.8,2.2)(4.9,2.2)(5,2.2)
(4.2,2.1)(4.3,2.1)(4.4,2.1)(4.5,2.1)(4.6,2.1)(4.7,2.1)(4.8,2.1)(4.9,2.1)(5,2.1)
(4.3,2)(4.4,2)(4.5,2)(4.6,2)(4.7,2)(4.8,2)(4.9,2)(5,2)
(4.3,1.9)(4.4,1.9)(4.5,1.9)(4.6,1.9)(4.7,1.9)(4.8,1.9)(4.9,1.9)(5,1.9)
(4.4,1.8)(4.5,1.8)(4.6,1.8)(4.7,1.8)(4.8,1.8)(4.9,1.8)(5,1.8)
(4.5,1.7)(4.6,1.7)(4.7,1.7)(4.8,1.7)(4.9,1.7)(5,1.7)
(4.6,1.6)(4.7,1.6)(4.8,1.6)(4.9,1.6)(5,1.6)
(4.7,1.5)(4.8,1.5)(4.9,1.5)(5,1.5)
(4.7,1.4)(4.8,1.4)(4.9,1.4)(5,1.4)
(4.8,1.3)(4.9,1.3)(5,1.3)
(4.9,1.2)(5,1.2)
(5,1.1)
(5,1)
};
\addlegendentry{Radial Misalignment 2 mm}
\end{axis}
\end{tikzpicture}
\end{document}
